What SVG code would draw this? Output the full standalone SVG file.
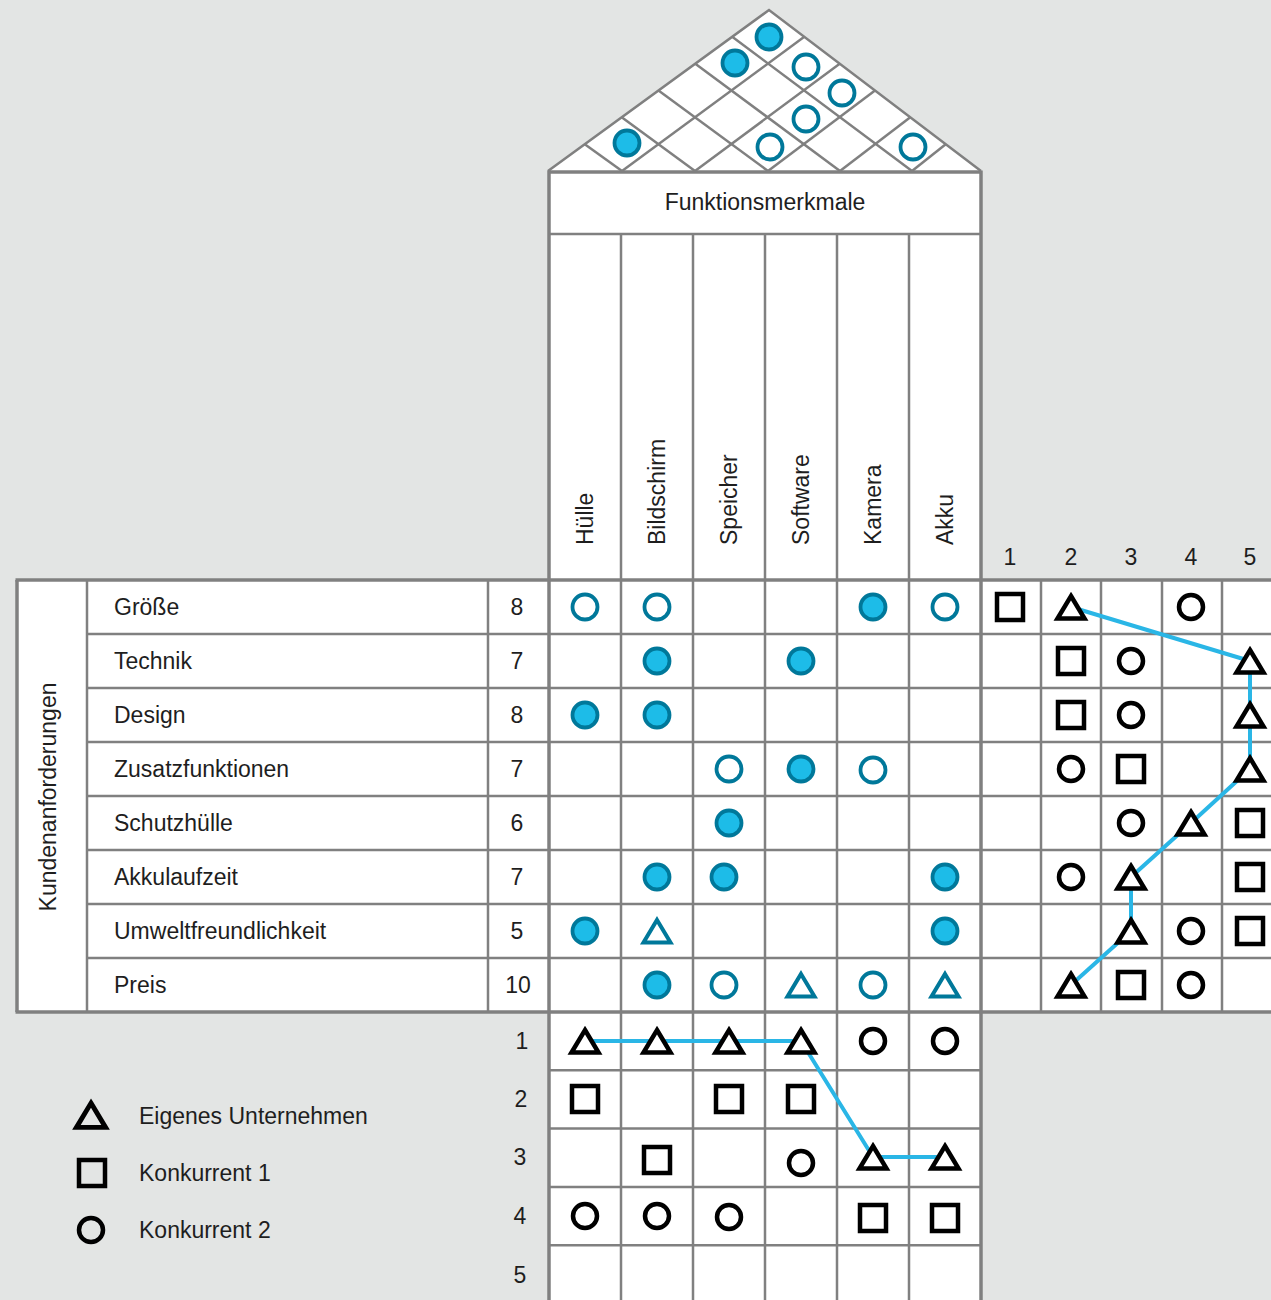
<svg xmlns="http://www.w3.org/2000/svg" xmlns:xlink="http://www.w3.org/1999/xlink" width="1271" height="1300" viewBox="0 0 1271 1300">
<style>
.t{font-family:"Liberation Sans",Arial,Helvetica,sans-serif;font-size:23px;fill:#1e1e1e}
.m{text-anchor:middle}
.g{fill:none;stroke:#808080;stroke-width:2.5}
.go{fill:none;stroke:#808080;stroke-width:3.5}
.w{fill:#fff}
.tf{fill:#1dbce8;stroke:#00789a;stroke-width:3.8}
.to{fill:#fff;stroke:#00789a;stroke-width:3.8}
.tt{fill:#fff;stroke:#00789a;stroke-width:4;stroke-linejoin:miter}
.bt{fill:#fff;stroke:#000;stroke-width:4.5;stroke-linejoin:miter}
.bn{fill:none;stroke:#000;stroke-width:4.5;stroke-linejoin:miter}
.bl{fill:none;stroke:#2ab6e6;stroke-width:4;stroke-linejoin:round}
</style>
<defs>
<path id="tri" d="M0,-11 L13.5,11.5 L-13.5,11.5 Z"/>
<rect id="sq" x="-13" y="-13" width="26" height="26"/>
<circle id="ci" cx="0" cy="0" r="12"/>
<circle id="tc" cx="0" cy="0" r="12.5"/>
</defs>
<rect x="0" y="0" width="1271" height="1300" fill="#e3e5e4"/>

<g id="frame">
<polygon class="w" points="548,171 769,10 981,171"/>
<rect class="w" x="549" y="172" width="432" height="1140"/>
<rect class="w" x="17" y="580" width="532" height="432"/>
<rect class="w" x="981" y="580" width="300" height="432"/>
</g>

<g id="roof">
<g class="g">
<line x1="622" y1="171" x2="584.8" y2="144.2"/>
<line x1="695" y1="171" x2="621.7" y2="117.3"/>
<line x1="768" y1="171" x2="658.5" y2="90.5"/>
<line x1="840" y1="171" x2="695.3" y2="63.7"/>
<line x1="912" y1="171" x2="732.2" y2="36.8"/>
<line x1="622" y1="171" x2="804.3" y2="36.8"/>
<line x1="695" y1="171" x2="839.7" y2="63.7"/>
<line x1="768" y1="171" x2="875" y2="90.5"/>
<line x1="840" y1="171" x2="910.3" y2="117.3"/>
<line x1="912" y1="171" x2="945.7" y2="144.2"/>
</g>
<polyline class="g" points="548,171 769,10 981,171"/>
<use href="#tc" x="769" y="37" class="tf"/>
<use href="#tc" x="735" y="63" class="tf"/>
<use href="#tc" x="627" y="143" class="tf"/>
<use href="#tc" x="806" y="67" class="to"/>
<use href="#tc" x="842" y="93" class="to"/>
<use href="#tc" x="806" y="119" class="to"/>
<use href="#tc" x="770" y="147" class="to"/>
<use href="#tc" x="913" y="147" class="to"/>
</g>

<g id="grid">
<g class="g">
<line x1="549" y1="234" x2="981" y2="234"/>
<line x1="621" y1="234" x2="621" y2="1300"/>
<line x1="693" y1="234" x2="693" y2="1300"/>
<line x1="765" y1="234" x2="765" y2="1300"/>
<line x1="837" y1="234" x2="837" y2="1300"/>
<line x1="909" y1="234" x2="909" y2="1300"/>
<line x1="87" y1="580" x2="87" y2="1012"/>
<line x1="488" y1="580" x2="488" y2="1012"/>
<line x1="1041" y1="580" x2="1041" y2="1012"/>
<line x1="1101" y1="580" x2="1101" y2="1012"/>
<line x1="1162" y1="580" x2="1162" y2="1012"/>
<line x1="1222" y1="580" x2="1222" y2="1012"/>
<line x1="87" y1="634" x2="1271" y2="634"/>
<line x1="87" y1="688" x2="1271" y2="688"/>
<line x1="87" y1="742" x2="1271" y2="742"/>
<line x1="87" y1="796" x2="1271" y2="796"/>
<line x1="87" y1="850" x2="1271" y2="850"/>
<line x1="87" y1="904" x2="1271" y2="904"/>
<line x1="87" y1="958" x2="1271" y2="958"/>
<line x1="549" y1="1070.3" x2="981" y2="1070.3"/>
<line x1="549" y1="1128.6" x2="981" y2="1128.6"/>
<line x1="549" y1="1186.9" x2="981" y2="1186.9"/>
<line x1="549" y1="1245.2" x2="981" y2="1245.2"/>
</g>
<g class="go">
<line x1="549" y1="172" x2="981" y2="172"/>
<line x1="549" y1="170.5" x2="549" y2="1300"/>
<line x1="981" y1="170.5" x2="981" y2="1300"/>
<line x1="15.5" y1="580" x2="1271" y2="580"/>
<line x1="15.5" y1="1012" x2="1271" y2="1012"/>
<line x1="17" y1="580" x2="17" y2="1012"/>
</g>
</g>

<g id="header">
<text class="t m" x="765" y="210">Funktionsmerkmale</text>
<text class="t" transform="translate(593,545) rotate(-90)">Hülle</text>
<text class="t" transform="translate(665,545) rotate(-90)">Bildschirm</text>
<text class="t" transform="translate(737,545) rotate(-90)">Speicher</text>
<text class="t" transform="translate(809,545) rotate(-90)">Software</text>
<text class="t" transform="translate(881,545) rotate(-90)">Kamera</text>
<text class="t" transform="translate(953,545) rotate(-90)">Akku</text>
</g>

<g id="requirements">
<text class="t m" transform="translate(56,797) rotate(-90)">Kundenanforderungen</text>
<text class="t" x="114" y="615">Größe</text>
<text class="t" x="114" y="669">Technik</text>
<text class="t" x="114" y="723">Design</text>
<text class="t" x="114" y="777">Zusatzfunktionen</text>
<text class="t" x="114" y="831">Schutzhülle</text>
<text class="t" x="114" y="885">Akkulaufzeit</text>
<text class="t" x="114" y="939">Umweltfreundlichkeit</text>
<text class="t" x="114" y="993">Preis</text>
<text class="t m" x="517" y="615">8</text>
<text class="t m" x="517" y="669">7</text>
<text class="t m" x="517" y="723">8</text>
<text class="t m" x="517" y="777">7</text>
<text class="t m" x="517" y="831">6</text>
<text class="t m" x="517" y="885">7</text>
<text class="t m" x="517" y="939">5</text>
<text class="t m" x="518" y="993">10</text>
</g>

<g id="matrix">
<use href="#tc" x="585" y="607" class="to"/>
<use href="#tc" x="657" y="607" class="to"/>
<use href="#tc" x="873" y="607" class="tf"/>
<use href="#tc" x="945" y="607" class="to"/>
<use href="#tc" x="657" y="661" class="tf"/>
<use href="#tc" x="801" y="661" class="tf"/>
<use href="#tc" x="585" y="715" class="tf"/>
<use href="#tc" x="657" y="715" class="tf"/>
<use href="#tc" x="729" y="769" class="to"/>
<use href="#tc" x="801" y="769" class="tf"/>
<use href="#tc" x="873" y="770" class="to"/>
<use href="#tc" x="729" y="823" class="tf"/>
<use href="#tc" x="657" y="877" class="tf"/>
<use href="#tc" x="724" y="877" class="tf"/>
<use href="#tc" x="945" y="877" class="tf"/>
<use href="#tc" x="585" y="931" class="tf"/>
<use href="#tri" x="657" y="931" class="tt"/>
<use href="#tc" x="945" y="931" class="tf"/>
<use href="#tc" x="657" y="985" class="tf"/>
<use href="#tc" x="724" y="985" class="to"/>
<use href="#tri" x="801" y="985" class="tt"/>
<use href="#tc" x="873" y="985" class="to"/>
<use href="#tri" x="945" y="985" class="tt"/>
</g>

<g id="connectors">
<polyline class="bl" points="1071,607 1250,661 1250,715 1250,769 1191,823 1131,877 1131,931 1071,985"/>
<polyline class="bl" points="585,1041 657,1041 729,1041 801,1041 873,1157 945,1157"/>
</g>

<g id="competition">
<text class="t m" x="1010" y="565">1</text>
<text class="t m" x="1071" y="565">2</text>
<text class="t m" x="1131" y="565">3</text>
<text class="t m" x="1191" y="565">4</text>
<text class="t m" x="1250" y="565">5</text>
<use href="#sq" x="1010" y="607" class="bt"/>
<use href="#tri" x="1071" y="607" class="bt"/>
<use href="#ci" x="1191" y="607" class="bt"/>
<use href="#sq" x="1071" y="661" class="bt"/>
<use href="#ci" x="1131" y="661" class="bt"/>
<use href="#tri" x="1250" y="661" class="bt"/>
<use href="#sq" x="1071" y="715" class="bt"/>
<use href="#ci" x="1131" y="715" class="bt"/>
<use href="#tri" x="1250" y="715" class="bt"/>
<use href="#ci" x="1071" y="769" class="bt"/>
<use href="#sq" x="1131" y="769" class="bt"/>
<use href="#tri" x="1250" y="769" class="bt"/>
<use href="#ci" x="1131" y="823" class="bt"/>
<use href="#tri" x="1191" y="823" class="bt"/>
<use href="#sq" x="1250" y="823" class="bt"/>
<use href="#ci" x="1071" y="877" class="bt"/>
<use href="#tri" x="1131" y="877" class="bt"/>
<use href="#sq" x="1250" y="877" class="bt"/>
<use href="#tri" x="1131" y="931" class="bt"/>
<use href="#ci" x="1191" y="931" class="bt"/>
<use href="#sq" x="1250" y="931" class="bt"/>
<use href="#tri" x="1071" y="985" class="bt"/>
<use href="#sq" x="1131" y="985" class="bt"/>
<use href="#ci" x="1191" y="985" class="bt"/>
</g>

<g id="technical">
<text class="t m" x="522" y="1049">1</text>
<text class="t m" x="521" y="1107">2</text>
<text class="t m" x="520" y="1165">3</text>
<text class="t m" x="520" y="1224">4</text>
<text class="t m" x="520" y="1283">5</text>
<use href="#tri" x="585" y="1041" class="bt"/>
<use href="#tri" x="657" y="1041" class="bt"/>
<use href="#tri" x="729" y="1041" class="bt"/>
<use href="#tri" x="801" y="1041" class="bt"/>
<use href="#ci" x="873" y="1041" class="bt"/>
<use href="#ci" x="945" y="1041" class="bt"/>
<use href="#sq" x="585" y="1099" class="bt"/>
<use href="#sq" x="729" y="1099" class="bt"/>
<use href="#sq" x="801" y="1099" class="bt"/>
<use href="#sq" x="657" y="1160" class="bt"/>
<use href="#ci" x="801" y="1163" class="bt"/>
<use href="#tri" x="873" y="1157" class="bt"/>
<use href="#tri" x="945" y="1157" class="bt"/>
<use href="#ci" x="585" y="1216" class="bt"/>
<use href="#ci" x="657" y="1216" class="bt"/>
<use href="#ci" x="729" y="1217" class="bt"/>
<use href="#sq" x="873" y="1218" class="bt"/>
<use href="#sq" x="945" y="1218" class="bt"/>
</g>

<g id="legend">
<use href="#tri" x="91" y="1115" class="bn" transform="translate(91,1115) scale(1.08) translate(-91,-1115)"/>
<use href="#sq" x="92" y="1173" class="bn"/>
<use href="#ci" x="91" y="1230" class="bn"/>
<text class="t" x="139" y="1124">Eigenes Unternehmen</text>
<text class="t" x="139" y="1181">Konkurrent 1</text>
<text class="t" x="139" y="1238">Konkurrent 2</text>
</g>
</svg>
